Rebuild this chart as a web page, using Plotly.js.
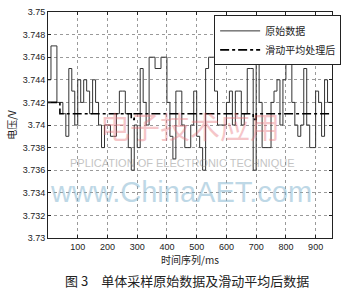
<!DOCTYPE html>
<html><head><meta charset="utf-8">
<script src="https://cdn.plot.ly/plotly-3.0.1.min.js"></script>
<style>html,body{margin:0;padding:0;background:#fff;}#chart{width:353px;height:296px;}</style>
</head><body><div id="chart"></div>
<script>
// sample time (ms) of each step start
const timeMs = [0,10,20,30,40,50,60,70,80,90,100,110,120,130,140,150,160,170,180,190,200,210,220,230,240,250,260,270,280,290,300,310,320,330,340,350,360,370,380,390,400,410,420,430,440,450,460,470,480,490,500,510,520,530,540,550,560,570,580,590,600,610,620,630,640,650,660,670,680,690,700,710,720,730,740,750,760,770,780,790,800,810,820,830,840,850,860,870,880,890,900,910,920,930,940,950];
// raw voltage samples (V)
const rawV = [3.744,3.747,3.747,3.742,3.742,3.741,3.739,3.745,3.743,3.740,3.744,3.742,3.744,3.743,3.741,3.744,3.742,3.740,3.738,3.740,3.740,3.739,3.739,3.741,3.743,3.743,3.741,3.738,3.736,3.740,3.738,3.745,3.742,3.740,3.746,3.746,3.745,3.745,3.746,3.746,3.742,3.739,3.737,3.743,3.743,3.740,3.738,3.738,3.740,3.743,3.739,3.738,3.736,3.745,3.746,3.746,3.743,3.740,3.740,3.740,3.742,3.743,3.740,3.743,3.743,3.740,3.741,3.745,3.745,3.736,3.746,3.742,3.738,3.738,3.738,3.742,3.743,3.744,3.740,3.744,3.746,3.746,3.742,3.740,3.739,3.740,3.745,3.740,3.738,3.738,3.743,3.742,3.739,3.744,3.742,3.742];
// moving-average output (V)
const maV = [3.742,3.742,3.742,3.742,3.741,3.741,3.741,3.741,3.741,3.741,3.741,3.741,3.741,3.741,3.741,3.741,3.741,3.741,3.741,3.741,3.741,3.741,3.741,3.741,3.741,3.741,3.741,3.741,3.7405,3.741,3.741,3.741,3.741,3.741,3.741,3.741,3.741,3.741,3.741,3.741,3.741,3.741,3.741,3.741,3.741,3.741,3.741,3.741,3.741,3.741,3.741,3.741,3.741,3.741,3.741,3.741,3.741,3.741,3.741,3.741,3.741,3.741,3.741,3.741,3.741,3.741,3.741,3.741,3.741,3.7405,3.741,3.741,3.741,3.741,3.741,3.741,3.741,3.741,3.741,3.741,3.741,3.741,3.741,3.741,3.741,3.741,3.741,3.741,3.741,3.741,3.741,3.741,3.741,3.741,3.741,3.741];
const endMs = 955;
const xTicks = [100,200,300,400,500,600,700,800,900];
const yTickVals = [3.73,3.732,3.734,3.736,3.738,3.74,3.742,3.744,3.746,3.748,3.75];
const yTickText = ["3.73","3.732","3.734","3.736","3.738","3.74","3.742","3.744","3.746","3.748","3.75"];
const seriesNames = ["原始数据","滑动平均处理后"];
const caption = "图 3　单体采样原始数据及滑动平均后数据";

const xs = timeMs.concat([endMs]);
const raw = rawV.concat([rawV[rawV.length-1]]);
const ma = maV.concat([maV[maV.length-1]]);

const axisCommon = {
  showline:true, linecolor:'#222', linewidth:1, mirror:'ticks',
  ticks:'inside', ticklen:3, tickcolor:'#222',
  showgrid:true, gridcolor:'#9a9a9a', griddash:'dot', gridwidth:1,
  zeroline:false,
  tickfont:{family:'Liberation Sans, Arial, sans-serif', size:9, color:'#222'}
};

const data = [
  {x:xs, y:raw, type:'scatter', mode:'lines', name:seriesNames[0],
   line:{shape:'hv', color:'#333', width:1}},
  {x:xs, y:ma, type:'scatter', mode:'lines', name:seriesNames[1],
   line:{shape:'hv', color:'#000', width:1.6, dash:'dashdot'}}
];

const layout = {
  width:353, height:296,
  margin:{l:48, r:17, t:12, b:58},
  paper_bgcolor:'#fff', plot_bgcolor:'#fff',
  showlegend:true,
  legend:{x:0.585, y:0.985, xanchor:'left', yanchor:'top',
    bgcolor:'#fff', bordercolor:'#222', borderwidth:1,
    font:{family:'Noto Sans CJK SC, sans-serif', size:10, color:'#222'},
    tracegroupgap:0, itemwidth:40},
  xaxis:Object.assign({}, axisCommon, {range:[0,955], tickvals:xTicks,
    title:{text:'时间序列/ms', standoff:2, font:{family:'Noto Sans CJK SC, sans-serif', size:10, color:'#222'}}}),
  yaxis:Object.assign({}, axisCommon, {range:[3.73,3.75], tickvals:yTickVals, ticktext:yTickText,
    title:{text:'电压/V', standoff:4, font:{family:'Noto Sans CJK SC, sans-serif', size:10, color:'#222'}}}),
  annotations:[
    {text:caption, xref:'paper', yref:'paper', x:0.49, y:-0.19, xanchor:'center', yanchor:'middle',
     showarrow:false, font:{family:'Noto Sans CJK SC, serif', size:13, color:'#222'}},
    {text:'电子技术应用', xref:'paper', yref:'paper', x:0.5, y:0.5, xanchor:'center', yanchor:'middle',
     showarrow:false, opacity:0.4, font:{family:'Noto Sans CJK SC, sans-serif', size:30, color:'#e8737a'}},
    {text:'PPLICATION OF ELECTRONIC TECHNIQUE', xref:'paper', yref:'paper', x:0.07, y:0.33, xanchor:'left', yanchor:'middle',
     showarrow:false, opacity:0.5, font:{family:'Liberation Sans, Arial, sans-serif', size:11, color:'#8a8a8a'}},
    {text:'www.ChinaAET.com', xref:'paper', yref:'paper', x:0.47, y:0.205, xanchor:'center', yanchor:'middle',
     showarrow:false, opacity:0.5, font:{family:'Liberation Sans, Arial, sans-serif', size:29, color:'#7fb3cf'}}
  ]
};

Plotly.newPlot('chart', data, layout, {staticPlot:true, displayModeBar:false});
</script></body></html>
